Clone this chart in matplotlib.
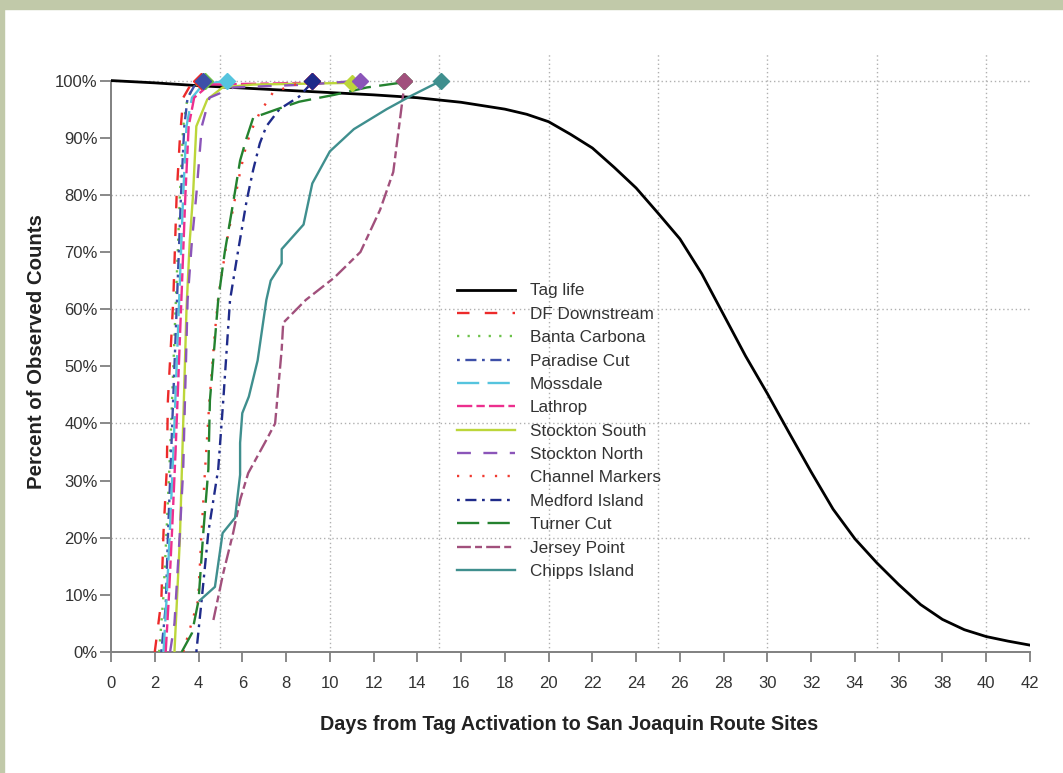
import matplotlib
matplotlib.use("Agg")
import matplotlib.pyplot as plt
from matplotlib.patches import Rectangle

plt.rcParams['font.family'] = ['Liberation Sans', 'DejaVu Sans']
plt.rcParams['lines.scale_dashes'] = False

# tag life survival curve (read at 1-2 day steps)
tag_days = [0, 2, 4, 6, 8, 10, 12, 14, 16, 18, 19, 20, 21, 22, 23, 24, 25, 26, 27, 28,
            29, 30, 31, 32, 33, 34, 35, 36, 37, 38, 39, 40, 41, 42]
tag_pct = [100, 99.6, 99.1, 98.7, 98.3, 97.9, 97.5, 97.0, 96.2, 95.0, 94.1, 92.8, 90.6, 88.2,
           84.8, 81.2, 76.8, 72.3, 66.2, 59.0, 51.8, 45.2, 38.3, 31.5, 25.0, 19.8, 15.6, 11.8,
           8.3, 5.7, 3.9, 2.7, 1.9, 1.2]

# cumulative arrival curves by site
df_days = [2.0, 2.3, 2.4, 2.55, 2.6, 2.77, 2.85, 3.0, 3.15, 3.3, 3.6, 4.1]
df_pct = [0, 9, 21, 32, 44, 56, 62, 80, 90, 97, 99, 100]

banta_days = [2.2, 2.4, 2.55, 2.7, 2.85, 3.0, 3.15, 3.3, 3.5, 3.8, 4.3]
banta_pct = [0, 10, 22, 35, 50, 65, 80, 92, 97, 99, 100]

paradise_days = [2.3, 2.5, 2.6, 2.75, 2.9, 3.05, 3.2, 3.35, 3.5, 3.8, 4.2]
paradise_pct = [0, 8, 20, 35, 50, 65, 80, 92, 97, 99, 100]

moss_days = [2.4, 2.55, 2.7, 2.85, 3.0, 3.15, 3.3, 3.45, 3.7, 4.2, 5.3]
moss_pct = [0, 10, 22, 35, 50, 65, 80, 92, 97, 99.3, 100]

lathrop_days = [2.5, 2.65, 2.8, 2.95, 3.1, 3.25, 3.4, 3.55, 3.8, 4.5, 9.0, 9.2]
lathrop_pct = [0, 10, 22, 35, 50, 65, 80, 92, 97, 99.3, 99.6, 100]

ss_days = [2.9, 3.0, 3.15, 3.3, 3.45, 3.6, 3.75, 3.9, 4.4, 5.1, 6.5, 11.0]
ss_pct = [0, 8, 20, 40, 60, 72, 80, 92, 96.7, 98.8, 99.3, 99.6]

sn_days = [2.7, 2.9, 3.15, 3.3, 3.38, 3.5, 3.7, 3.9, 4.15, 4.5, 5.6, 9.0, 11.4]
sn_pct = [0, 5, 21, 32, 44, 61.6, 72, 80, 92, 97, 98.8, 99.3, 100]

cm_days = [3.3, 3.98, 4.14, 4.3, 4.5, 4.75, 4.9, 5.3, 5.9, 6.2, 6.5, 6.8, 7.4, 8.3, 9.2]
cm_pct = [0, 9, 21, 32, 44, 56, 62, 72, 84, 89, 92, 94.4, 97.9, 99.2, 100]

medford_days = [3.9, 4.14, 4.45, 4.9, 5.13, 5.44, 5.8, 6.2, 6.5, 6.8, 7.1, 7.7, 8.6, 9.1, 9.2]
medford_pct = [0, 9, 21, 32, 44, 61.6, 70, 79, 84.4, 89, 92, 95, 97.2, 99.3, 100]

turner_days = [3.23, 3.7, 4.0, 4.22, 4.45, 4.52, 4.9, 5.2, 5.6, 5.9, 6.2, 6.5, 7.6, 8.6, 10.2,
               11.7, 13.2, 13.4]
turner_pct = [0, 3.3, 9, 21, 32, 44, 61.6, 70, 79, 86, 90, 93.5, 95, 96.3, 97.5, 98.8, 99.6, 100]

jersey_days = [4.68, 5.13, 5.58, 5.9, 6.27, 7.1, 7.5, 7.8, 7.87, 8.9, 10.2, 11.4, 12.3, 12.9,
               13.3, 13.4, 13.4]
jersey_pct = [5.6, 13.8, 20.8, 26.6, 31.3, 37.1, 40, 52.9, 57.6, 61.6, 65.5, 70, 77.4, 84, 96,
              99, 100]

chipps_days = [4.05, 4.75, 5.1, 5.67, 5.9, 5.9, 6.0, 6.3, 6.7, 7.1, 7.3, 7.8, 7.8, 8.8, 9.2,
               10.0, 11.1, 12.6, 13.7, 15.1]
chipps_pct = [9, 11.4, 20.8, 23.5, 31, 36.6, 41.8, 44.7, 51, 61.6, 65, 68, 70.5, 74.8, 82,
              87.6, 91.5, 95, 97.3, 100]

sites = [
    ("DF Downstream", df_days, df_pct, "#ec2a2a", (0, (9, 11))),
    ("Banta Carbona", banta_days, banta_pct, "#6cc24a", (0, (1.6, 6))),
    ("Paradise Cut", paradise_days, paradise_pct, "#3d4fa8", (0, (2, 4, 8, 4))),
    ("Mossdale", moss_days, moss_pct, "#55c4de", (0, (16, 6))),
    ("Lathrop", lathrop_days, lathrop_pct, "#ec2f8e", (0, (11, 3, 6, 3))),
    ("Stockton South", ss_days, ss_pct, "#bcd63a", "-"),
    ("Stockton North", sn_days, sn_pct, "#8b55b9", (0, (10, 9))),
    ("Channel Markers", cm_days, cm_pct, "#f03a30", (0, (1.6, 7.5))),
    ("Medford Island", medford_days, medford_pct, "#1f2b8a", (0, (2, 4, 8, 4))),
    ("Turner Cut", turner_days, turner_pct, "#24822f", (0, (16, 6))),
    ("Jersey Point", jersey_days, jersey_pct, "#a1507c", (0, (10, 3, 5, 3))),
    ("Chipps Island", chipps_days, chipps_pct, "#3f8f8e", "-"),
]

fig = plt.figure(figsize=(10.63, 7.73), dpi=100)
fig.patches.append(Rectangle((0, 1 - 9 / 773), 1, 9 / 773, transform=fig.transFigure,
                             color="#c1c9a9", zorder=0))
fig.patches.append(Rectangle((0, 0), 4 / 1063, 1, transform=fig.transFigure,
                             color="#c1c9a9", zorder=0))

ax = fig.add_axes([111 / 1063, 1 - 652 / 773, 919 / 1063, 600 / 773])
ax.set_xlim(0, 42)
ax.set_ylim(0, 105)

grid_kw = dict(color="#b0b0b0", lw=1.0, ls=(0, (1, 2)), zorder=0)
for gx in range(5, 41, 5):
    ax.axvline(gx, **grid_kw)
for gy in range(20, 101, 20):
    ax.axhline(gy, **grid_kw)

ax.plot(tag_days, tag_pct, color="black", lw=2.0, label="Tag life", zorder=3)
for name, d, p, c, ls in sites:
    ax.plot(d, p, color=c, lw=1.7, ls=ls, label=name, zorder=4)
    ax.plot(d[-1], p[-1], marker="D", ms=8, color=c, zorder=5)

for s in ["top", "right"]:
    ax.spines[s].set_visible(False)
for s in ["left", "bottom"]:
    ax.spines[s].set_color("#808080")
    ax.spines[s].set_linewidth(1.4)
ax.spines["left"].set_bounds(0, 100)

ax.set_xticks(range(0, 43, 2))
ax.set_yticks(range(0, 101, 10))
ax.set_yticklabels([f"{v}%" for v in range(0, 101, 10)])
ax.tick_params(axis="x", length=7, width=1.3, color="#808080", pad=10, labelsize=12,
               labelcolor="#333333")
ax.tick_params(axis="y", length=8, width=1.3, color="#808080", pad=1.5, labelsize=12,
               labelcolor="#333333")

fig.text(37 / 1063, 1 - 352 / 773, "Percent of Observed Counts", rotation=90, fontsize=14.7,
         fontweight="bold", color="#222222", ha="center", va="center")
fig.text(569 / 1063, 1 - 725 / 773, "Days from Tag Activation to San Joaquin Route Sites",
         fontsize=14.2, fontweight="bold", color="#222222", ha="center", va="center")

ax.legend(loc="upper left", bbox_to_anchor=(457 / 1063, 1 - 283.5 / 773),
          bbox_transform=fig.transFigure, frameon=False, fontsize=12.3, handlelength=3.4,
          handletextpad=0.85, labelspacing=0.49, borderpad=0, borderaxespad=0,
          labelcolor="#333333")

fig.savefig("out.png", dpi=100)
